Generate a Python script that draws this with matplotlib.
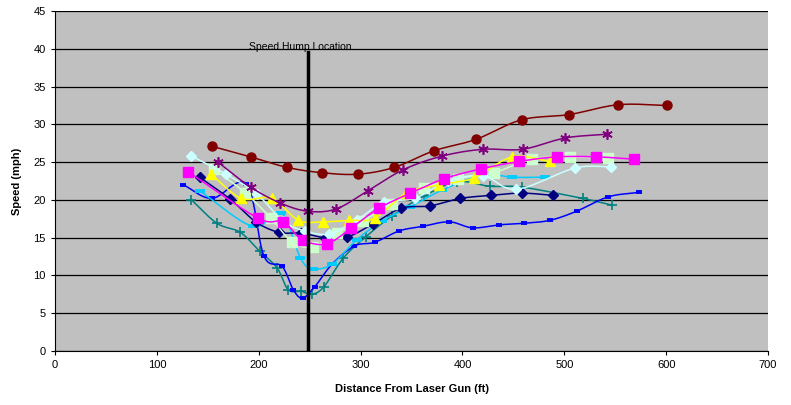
import numpy as np
import matplotlib as mpl
mpl.use('Agg')
import matplotlib.pyplot as plt

# distance (ft) / speed (mph), one pair per vehicle run
red_x = [154, 192, 228, 262, 297, 333, 372, 413, 458, 505, 553, 601]
red_y = [27.1, 25.7, 24.3, 23.6, 23.4, 24.3, 26.5, 28.0, 30.6, 31.3, 32.6, 32.5]

purple_x = [160, 192, 221, 248, 276, 307, 342, 380, 420, 459, 501, 542]
purple_y = [25.0, 21.7, 19.6, 18.5, 18.8, 21.2, 24.0, 25.8, 26.7, 26.7, 28.2, 28.7]

magenta_x = [131, 199, 224, 243, 267, 291, 318, 349, 382, 418, 456, 493, 531, 568]
magenta_y = [23.7, 17.6, 17.1, 14.7, 14.2, 16.3, 18.9, 20.9, 22.8, 24.1, 25.1, 25.7, 25.7, 25.4]

yellow_x = [153, 183, 213, 239, 263, 289, 314, 345, 377, 411, 449, 486]
yellow_y = [23.4, 20.2, 20.2, 17.3, 17.1, 17.3, 17.6, 20.9, 22.0, 22.9, 25.7, 25.1]

navy_x = [142, 172, 197, 220, 242, 265, 287, 312, 340, 368, 398, 428, 458, 489]
navy_y = [23.0, 20.1, 17.1, 15.7, 15.6, 15.0, 15.1, 16.8, 18.9, 19.2, 20.2, 20.6, 20.9, 20.6]

ltcyan_x = [134, 168, 198, 224, 245, 269, 296, 323, 353, 386, 420, 453, 510, 546]
ltcyan_y = [25.8, 23.4, 20.8, 17.2, 15.9, 15.5, 17.3, 19.7, 20.2, 22.5, 23.2, 21.4, 24.2, 24.4]

ltgreen_x = [156, 187, 212, 233, 253, 277, 302, 331, 362, 396, 431, 468, 506, 543]
ltgreen_y = [24.1, 20.9, 17.6, 14.4, 13.8, 15.6, 17.2, 19.5, 21.6, 22.8, 23.6, 25.4, 25.7, 25.5]

sky_x = [142, 194, 222, 241, 253, 272, 296, 321, 349, 380, 420, 449, 481]
sky_y = [21.2, 16.5, 18.3, 12.3, 10.9, 11.5, 14.7, 17.2, 19.1, 21.3, 23.3, 23.0, 23.0]

blue_x = [126, 154, 188, 205, 223, 234, 243, 255, 272, 294, 314, 338, 361, 387,
          410, 436, 460, 486, 512, 543, 573]
blue_y = [22.0, 20.2, 22.1, 12.6, 11.2, 8.1, 7.0, 8.5, 11.5, 13.9, 14.4, 15.9, 16.5, 17.1,
          16.3, 16.7, 16.9, 17.3, 18.5, 20.4, 21.0]

teal_x = [134, 159, 182, 201, 218, 229, 242, 252, 264, 283, 305, 331, 362, 395,
          427, 458, 518, 547]
teal_y = [20.0, 16.9, 15.7, 13.2, 11.0, 8.1, 7.9, 7.5, 8.5, 12.3, 15.1, 17.9, 20.5, 22.4,
          21.8, 21.7, 20.2, 19.3]

hump_x = 248
hump_top = 39.6


def smooth(x, y, n=12):
    # catmull-rom curve through the points, like the spreadsheet's smoothed line
    x = np.asarray(x, float)
    y = np.asarray(y, float)
    px = np.concatenate([[2*x[0]-x[1]], x, [2*x[-1]-x[-2]]])
    py = np.concatenate([[2*y[0]-y[1]], y, [2*y[-1]-y[-2]]])
    t = np.linspace(0, 1, n, endpoint=False)
    ox, oy = [], []
    for i in range(1, len(px)-2):
        for arr, out in ((px, ox), (py, oy)):
            p0, p1, p2, p3 = arr[i-1], arr[i], arr[i+1], arr[i+2]
            out.extend(0.5*((2*p1) + (-p0+p2)*t + (2*p0-5*p1+4*p2-p3)*t**2
                            + (-p0+3*p1-3*p2+p3)*t**3))
    ox.append(x[-1])
    oy.append(y[-1])
    return ox, oy


plt.rcParams['font.family'] = ['Liberation Sans', 'DejaVu Sans']
fig = plt.figure(figsize=(7.91, 4.05), dpi=100)
ax = fig.add_axes([0.0695, 0.1333, 0.9015, 0.8395])
ax.set_facecolor('#C0C0C0')

series = [
    (teal_x, teal_y, '#008080', '+', 6.5, 1.2),
    (blue_x, blue_y, '#0000FF', '_', 4.5, 2.8),
    (sky_x, sky_y, '#00CCFF', '_', 6.5, 2.8),
    (navy_x, navy_y, '#000080', 'D', 5.5, 1),
    (ltgreen_x, ltgreen_y, '#CCFFCC', 's', 6.5, 1),
    (ltcyan_x, ltcyan_y, '#CCFFFF', 'D', 5.5, 1),
    (yellow_x, yellow_y, '#FFFF00', '^', 6.5, 1),
    (magenta_x, magenta_y, '#FF00FF', 's', 6.5, 1),
    (purple_x, purple_y, '#800080', (6, 2, 0), 7.5, 1.2),
    (red_x, red_y, '#800000', 'o', 6.5, 1),
]
for x, y, c, m, ms, mew in series:
    sx, sy = smooth(x, y)
    ax.plot(sx, sy, color=c, linewidth=1.1)
    ax.plot(x, y, linestyle='none', marker=m, markersize=ms, color=c,
            markeredgecolor=c, markeredgewidth=mew)

ax.plot([hump_x, hump_x], [0, hump_top], color='black', linewidth=2.5)
ax.text(hump_x - 58, hump_top + 0.3, 'Speed Hump Location', fontsize=7.5)

ax.set_xlim(0, 700)
ax.set_ylim(0, 45)
ax.set_xticks(np.arange(0, 701, 100))
ax.set_yticks(np.arange(0, 46, 5))
ax.yaxis.grid(True, color='black', linewidth=0.9)
ax.set_axisbelow(True)
ax.tick_params(axis='both', labelsize=8, direction='out', length=3)
for s in ['top', 'right']:
    ax.spines[s].set_visible(False)
ax.set_xlabel('Distance From Laser Gun (ft)', fontsize=8, fontweight='bold', labelpad=10)
ax.set_ylabel('Speed (mph)', fontsize=8, fontweight='bold', labelpad=8)

fig.savefig('out.png', dpi=100)
plt.close()
